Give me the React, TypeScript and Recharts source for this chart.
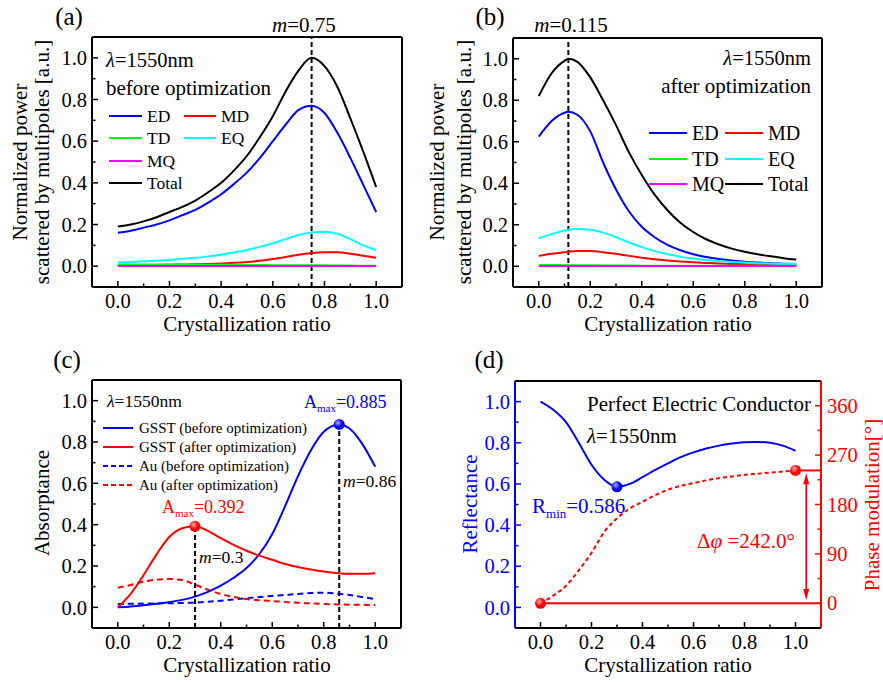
import React from 'react';
import { LineChart, Line, XAxis, YAxis, ReferenceLine, ReferenceDot } from 'recharts';

// ---------- data ----------
const xA = [0, 0.05, 0.1, 0.15, 0.2, 0.25, 0.3, 0.35, 0.4, 0.45, 0.5, 0.55, 0.6, 0.65, 0.7, 0.75, 0.8, 0.85, 0.9, 0.95, 1.0];
const aTotal = [0.19, 0.2, 0.215, 0.235, 0.26, 0.285, 0.315, 0.355, 0.4, 0.46, 0.53, 0.62, 0.72, 0.84, 0.94, 1.0, 0.96, 0.86, 0.71, 0.55, 0.38];
const aED = [0.16, 0.17, 0.185, 0.2, 0.22, 0.245, 0.27, 0.305, 0.345, 0.395, 0.45, 0.52, 0.6, 0.68, 0.75, 0.77, 0.735, 0.64, 0.52, 0.39, 0.26];
const aMD = [0.003, 0.004, 0.005, 0.006, 0.007, 0.008, 0.009, 0.011, 0.013, 0.016, 0.02, 0.026, 0.034, 0.044, 0.055, 0.063, 0.067, 0.067, 0.06, 0.05, 0.04];
const aTD = [0.008, 0.008, 0.008, 0.008, 0.008, 0.007, 0.007, 0.007, 0.007, 0.006, 0.006, 0.006, 0.005, 0.005, 0.005, 0.004, 0.004, 0.003, 0.003, 0.002, 0.002];
const aEQ = [0.018, 0.02, 0.023, 0.026, 0.03, 0.035, 0.04, 0.047, 0.055, 0.066, 0.078, 0.093, 0.11, 0.13, 0.15, 0.162, 0.165, 0.155, 0.13, 0.1, 0.077];
const aMQ = [0.001, 0.001, 0.001, 0.001, 0.001, 0.001, 0.001, 0.001, 0.001, 0.001, 0.001, 0.001, 0.001, 0.001, 0.001, 0.001, 0.001, 0.001, 0.001, 0.001, 0.001];

const xB = [0, 0.05, 0.1, 0.115, 0.15, 0.2, 0.25, 0.3, 0.35, 0.4, 0.45, 0.5, 0.55, 0.6, 0.65, 0.7, 0.75, 0.8, 0.85, 0.9, 0.95, 1.0];
const bTotal = [0.82, 0.93, 0.99, 1.0, 0.985, 0.91, 0.8, 0.68, 0.55, 0.44, 0.345, 0.27, 0.21, 0.165, 0.13, 0.105, 0.085, 0.07, 0.058, 0.048, 0.039, 0.032];
const bED = [0.625, 0.7, 0.74, 0.745, 0.73, 0.65, 0.5, 0.37, 0.265, 0.19, 0.14, 0.103, 0.077, 0.058, 0.045, 0.035, 0.028, 0.022, 0.018, 0.015, 0.012, 0.01];
const bMD = [0.05, 0.06, 0.068, 0.07, 0.073, 0.073, 0.068, 0.06, 0.05, 0.041, 0.034, 0.028, 0.023, 0.019, 0.016, 0.013, 0.011, 0.01, 0.008, 0.007, 0.006, 0.005];
const bTD = [0.006, 0.006, 0.005, 0.005, 0.005, 0.005, 0.004, 0.004, 0.004, 0.003, 0.003, 0.003, 0.003, 0.002, 0.002, 0.002, 0.002, 0.002, 0.002, 0.002, 0.002, 0.002];
const bEQ = [0.135, 0.155, 0.172, 0.176, 0.18, 0.176, 0.162, 0.14, 0.115, 0.092, 0.073, 0.058, 0.046, 0.037, 0.03, 0.025, 0.021, 0.018, 0.015, 0.013, 0.012, 0.011];
const bMQ = [0.001, 0.001, 0.001, 0.001, 0.001, 0.001, 0.001, 0.001, 0.001, 0.001, 0.001, 0.001, 0.001, 0.001, 0.001, 0.001, 0.001, 0.001, 0.001, 0.001, 0.001, 0.001];

const xC = [0, 0.05, 0.1, 0.15, 0.2, 0.25, 0.3, 0.35, 0.4, 0.45, 0.5, 0.55, 0.6, 0.65, 0.7, 0.75, 0.8, 0.86, 0.9, 0.95, 1.0];
const cGsstBefore = [0, 0.004, 0.01, 0.017, 0.025, 0.036, 0.052, 0.075, 0.105, 0.143, 0.19, 0.258, 0.355, 0.49, 0.635, 0.76, 0.85, 0.885, 0.865, 0.79, 0.68];
const cGsstAfter = [0, 0.065, 0.155, 0.255, 0.34, 0.383, 0.392, 0.37, 0.335, 0.302, 0.274, 0.25, 0.23, 0.21, 0.195, 0.183, 0.173, 0.165, 0.162, 0.162, 0.165];
const cAuBefore = [0.016, 0.017, 0.018, 0.019, 0.02, 0.021, 0.023, 0.027, 0.032, 0.038, 0.044, 0.05, 0.055, 0.06, 0.065, 0.069, 0.071, 0.066, 0.06, 0.05, 0.039];
const cAuAfter = [0.095, 0.108, 0.124, 0.134, 0.137, 0.132, 0.11, 0.085, 0.065, 0.05, 0.04, 0.034, 0.03, 0.026, 0.022, 0.019, 0.016, 0.014, 0.013, 0.012, 0.011];

const xD = [0, 0.05, 0.1, 0.15, 0.2, 0.25, 0.3, 0.35, 0.4, 0.45, 0.5, 0.55, 0.6, 0.65, 0.7, 0.75, 0.8, 0.85, 0.9, 0.95, 1.0];
const dRefl = [1.0, 0.96, 0.9, 0.8, 0.693, 0.62, 0.586, 0.6, 0.633, 0.668, 0.7, 0.73, 0.753, 0.772, 0.786, 0.796, 0.803, 0.804, 0.8, 0.786, 0.761];
const dPhase = [0, 14, 32, 60, 92, 130, 155, 173, 185, 197, 207, 214, 219, 224, 228, 231, 234, 236, 238, 240, 242];

const xTicks = [0, 0.1, 0.2, 0.3, 0.4, 0.5, 0.6, 0.7, 0.8, 0.9, 1.0];
const yTicks = [0, 0.1, 0.2, 0.3, 0.4, 0.5, 0.6, 0.7, 0.8, 0.9, 1.0];
const phaseTicks = [0, 45, 90, 135, 180, 225, 270, 315, 360];

const peakA = 0.75;
const peakB = 0.115;
const cPeakBefore = { x: 0.86, y: 0.885 };
const cPeakAfter = { x: 0.3, y: 0.392 };
const dMin = { x: 0.3, y: 0.586 };
const dPhaseStart = { x: 0, y: 0 };
const dPhaseEnd = { x: 1.0, y: 242 };
const dArrow = { x: 1.042, y1: 6, y2: 237 };

// ---------- styles ----------
const FONT = '"Liberation Serif", "Times New Roman", serif';
const BLUE = '#0000ff';
const RED = '#ff0000';
const GREEN = '#00ff00';
const CYAN = '#00ffff';
const MAGENTA = '#ff00ff';
const BLACK = '#000000';
const DOM: [number, number] = [-0.1, 1.1];

const isMajor1 = (v: number) => Math.round(v * 10) % 2 === 0;
const isMajorPhase = (v: number) => Math.round(v) % 90 === 0;

function makeTick(side: 'left' | 'right' | 'bottom', color: string, isMajor: (v: number) => boolean, fmt: (v: number) => string) {
  return (props: any) => {
    const { x, y, payload } = props;
    const v = payload.value;
    const major = isMajor(v);
    const len = major ? 6 : 3.5;
    if (side === 'bottom') {
      return (
        <g>
          <line x1={x} x2={x} y1={y} y2={y - len} stroke={color} strokeWidth={1.5} />
          {major && (
            <text x={x} y={y + 21} textAnchor="middle" fontSize={20.5} fill={color} fontFamily={FONT}>
              {fmt(v)}
            </text>
          )}
        </g>
      );
    }
    if (side === 'left') {
      return (
        <g>
          <line x1={x} x2={x + len} y1={y} y2={y} stroke={color} strokeWidth={1.5} />
          {major && (
            <text x={x - 5} y={y} dy="0.35em" textAnchor="end" fontSize={20.5} fill={color} fontFamily={FONT}>
              {fmt(v)}
            </text>
          )}
        </g>
      );
    }
    return (
      <g>
        <line x1={x} x2={x - len} y1={y} y2={y} stroke={color} strokeWidth={1.5} />
        {major && (
          <text x={x + 6} y={y} dy="0.35em" textAnchor="start" fontSize={20.5} fill={color} fontFamily={FONT}>
            {fmt(v)}
          </text>
        )}
      </g>
    );
  };
}

const fmt1 = (v: number) => v.toFixed(1);
const fmtInt = (v: number) => String(Math.round(v));
const bottomTick = makeTick('bottom', BLACK, isMajor1, fmt1);
const leftTick = makeTick('left', BLACK, isMajor1, fmt1);
const leftTickBlue = makeTick('left', BLUE, isMajor1, fmt1);
const rightTickRed = makeTick('right', RED, isMajorPhase, fmtInt);

const ball = (color: string, light: string, id: string) => (props: any) => {
  const { cx, cy } = props;
  return (
    <g>
      <defs>
        <radialGradient id={id} cx="38%" cy="35%" r="70%">
          <stop offset="0%" stopColor={light} />
          <stop offset="55%" stopColor={color} />
          <stop offset="100%" stopColor={color} />
        </radialGradient>
      </defs>
      <circle cx={cx} cy={cy} r={5.5} fill={`url(#${id})`} />
    </g>
  );
};

const DoubleArrow = (props: any) => {
  const { x1, y1, x2, y2 } = props;
  const top = Math.min(y1, y2);
  const bot = Math.max(y1, y2);
  return (
    <g>
      <line x1={x1} x2={x2} y1={top + 6} y2={bot - 6} stroke={RED} strokeWidth={1.6} />
      <path d={`M${x1 - 3},${top + 11} L${x1},${top} L${x1 + 3},${top + 11} Z`} fill={RED} />
      <path d={`M${x1 - 3},${bot - 11} L${x1},${bot} L${x1 + 3},${bot - 11} Z`} fill={RED} />
    </g>
  );
};

const frameAxes = (color = BLACK) => [
  <XAxis key="ft" xAxisId="top" orientation="top" type="number" domain={DOM} height={1} tick={false} tickLine={false} stroke={BLACK} axisLine={{ stroke: BLACK, strokeWidth: 2 }} allowDataOverflow />,
  <YAxis key="fr" yAxisId="right" orientation="right" type="number" domain={DOM} width={1} tick={false} tickLine={false} stroke={color} axisLine={{ stroke: color, strokeWidth: 2 }} allowDataOverflow />,
];

const mainAxes = () => [
  <XAxis key="x" dataKey="x" type="number" domain={DOM} ticks={xTicks} interval={0} height={1} tickSize={0} tickMargin={0} tickLine={false} tick={bottomTick} stroke={BLACK} axisLine={{ stroke: BLACK, strokeWidth: 2 }} allowDataOverflow />,
  <YAxis key="y" type="number" domain={DOM} ticks={yTicks} interval={0} width={1} tickSize={0} tickMargin={0} tickLine={false} tick={leftTick} stroke={BLACK} axisLine={{ stroke: BLACK, strokeWidth: 2 }} allowDataOverflow />,
];

const dataA = xA.map((x, i) => ({ x, total: aTotal[i], ed: aED[i], md: aMD[i], td: aTD[i], eq: aEQ[i], mq: aMQ[i] }));
const dataB = xB.map((x, i) => ({ x, total: bTotal[i], ed: bED[i], md: bMD[i], td: bTD[i], eq: bEQ[i], mq: bMQ[i] }));
const dataC = xC.map((x, i) => ({ x, gb: cGsstBefore[i], ga: cGsstAfter[i], ab: cAuBefore[i], aa: cAuAfter[i] }));
const dataD = xD.map((x, i) => ({ x, refl: dRefl[i], phase: dPhase[i] }));

const multipoleLines = [
  { key: 'total', color: BLACK },
  { key: 'ed', color: BLUE },
  { key: 'md', color: RED },
  { key: 'td', color: GREEN },
  { key: 'eq', color: CYAN },
  { key: 'mq', color: MAGENTA },
];

const T = (p: any) => <text fontFamily={FONT} fill={BLACK} {...p} />;
const LegLine = ({ x1, x2, y, color, dash }: any) => (
  <line x1={x1} x2={x2} y1={y} y2={y} stroke={color} strokeWidth={2} strokeDasharray={dash} />
);

export default function App() {
  return (
    <div style={{ position: 'absolute', left: 0, top: 0, width: 883, height: 682, background: '#fff', fontFamily: FONT }}>
      {/* (a) */}
      <div style={{ position: 'absolute', left: 0, top: 0 }}>
        <LineChart width={441} height={341} data={dataA} margin={{ top: 36, right: 38, bottom: 53, left: 91 }}>
          {mainAxes()}
          {frameAxes()}
          <ReferenceLine x={peakA} stroke={BLACK} strokeWidth={2} strokeDasharray="5 3" />
          {multipoleLines.map((l) => (
            <Line key={l.key} dataKey={l.key} type="monotone" stroke={l.color} strokeWidth={2} dot={false} isAnimationActive={false} />
          ))}
        </LineChart>
      </div>
      {/* (b) */}
      <div style={{ position: 'absolute', left: 440, top: 0 }}>
        <LineChart width={443} height={341} data={dataB} margin={{ top: 37, right: 60, bottom: 53, left: 72 }}>
          {mainAxes()}
          {frameAxes()}
          <ReferenceLine x={peakB} stroke={BLACK} strokeWidth={2} strokeDasharray="5 3" />
          {multipoleLines.map((l) => (
            <Line key={l.key} dataKey={l.key} type="monotone" stroke={l.color} strokeWidth={2} dot={false} isAnimationActive={false} />
          ))}
        </LineChart>
      </div>
      {/* (c) */}
      <div style={{ position: 'absolute', left: 0, top: 340 }}>
        <LineChart width={441} height={342} data={dataC} margin={{ top: 39, right: 39, bottom: 53, left: 91 }}>
          {mainAxes()}
          {frameAxes()}
          <ReferenceLine segment={[{ x: cPeakAfter.x, y: DOM[0] }, { x: cPeakAfter.x, y: cPeakAfter.y }]} stroke={BLACK} strokeWidth={2} strokeDasharray="5 3" />
          <ReferenceLine segment={[{ x: cPeakBefore.x, y: DOM[0] }, { x: cPeakBefore.x, y: cPeakBefore.y }]} stroke={BLACK} strokeWidth={2} strokeDasharray="5 3" />
          <Line dataKey="ab" type="monotone" stroke={BLUE} strokeWidth={2} strokeDasharray="6 4" dot={false} isAnimationActive={false} />
          <Line dataKey="aa" type="monotone" stroke={RED} strokeWidth={2} strokeDasharray="6 4" dot={false} isAnimationActive={false} />
          <Line dataKey="gb" type="monotone" stroke={BLUE} strokeWidth={2} dot={false} isAnimationActive={false} />
          <Line dataKey="ga" type="monotone" stroke={RED} strokeWidth={2} dot={false} isAnimationActive={false} />
          <ReferenceDot x={cPeakBefore.x} y={cPeakBefore.y} shape={ball(BLUE, '#b0b0ff', 'gbC')} />
          <ReferenceDot x={cPeakAfter.x} y={cPeakAfter.y} shape={ball(RED, '#ffb0b0', 'grC')} />
        </LineChart>
      </div>
      {/* (d) */}
      <div style={{ position: 'absolute', left: 440, top: 340 }}>
        <LineChart width={443} height={342} data={dataD} margin={{ top: 40, right: 61, bottom: 53, left: 74 }}>
          <XAxis dataKey="x" type="number" domain={DOM} ticks={xTicks} interval={0} height={1} tickSize={0} tickMargin={0} tickLine={false} tick={bottomTick} stroke={BLACK} axisLine={{ stroke: BLACK, strokeWidth: 2 }} allowDataOverflow />
          <XAxis xAxisId="top" orientation="top" type="number" domain={DOM} height={1} tick={false} tickLine={false} stroke={BLACK} axisLine={{ stroke: BLACK, strokeWidth: 2 }} allowDataOverflow />
          <YAxis yAxisId="refl" type="number" domain={DOM} ticks={yTicks} interval={0} width={1} tickSize={0} tickMargin={0} tickLine={false} tick={leftTickBlue} stroke={BLUE} axisLine={{ stroke: BLUE, strokeWidth: 2 }} allowDataOverflow />
          <YAxis yAxisId="phase" orientation="right" type="number" domain={[-45, 405]} ticks={phaseTicks} interval={0} width={1} tickSize={0} tickMargin={0} tickLine={false} tick={rightTickRed} stroke={RED} axisLine={{ stroke: RED, strokeWidth: 2 }} allowDataOverflow />
          <ReferenceLine yAxisId="phase" segment={[{ x: dPhaseStart.x, y: dPhaseStart.y }, { x: DOM[1], y: dPhaseStart.y }]} stroke={RED} strokeWidth={2} />
          <ReferenceLine yAxisId="phase" segment={[{ x: dPhaseEnd.x, y: dPhaseEnd.y }, { x: DOM[1], y: dPhaseEnd.y }]} stroke={RED} strokeWidth={2} />
          <ReferenceLine yAxisId="phase" segment={[{ x: dArrow.x, y: dArrow.y1 }, { x: dArrow.x, y: dArrow.y2 }]} shape={DoubleArrow} />
          <Line yAxisId="phase" dataKey="phase" type="monotone" stroke={RED} strokeWidth={2} strokeDasharray="4 3" dot={false} isAnimationActive={false} />
          <Line yAxisId="refl" dataKey="refl" type="monotone" stroke={BLUE} strokeWidth={2} dot={false} isAnimationActive={false} />
          <ReferenceDot yAxisId="refl" x={dMin.x} y={dMin.y} shape={ball(BLUE, '#b0b0ff', 'gbD')} />
          <ReferenceDot yAxisId="phase" x={dPhaseStart.x} y={dPhaseStart.y} shape={ball(RED, '#ffb0b0', 'grD1')} />
          <ReferenceDot yAxisId="phase" x={dPhaseEnd.x} y={dPhaseEnd.y} shape={ball(RED, '#ffb0b0', 'grD2')} />
        </LineChart>
      </div>

      {/* text overlay */}
      <svg width={883} height={682} style={{ position: 'absolute', left: 0, top: 0, pointerEvents: 'none' }}>
        {/* panel labels */}
        <T x={69} y={25} fontSize={25} textAnchor="middle">(a)</T>
        <T x={490} y={25} fontSize={25} textAnchor="middle">(b)</T>
        <T x={67} y={368} fontSize={25} textAnchor="middle">(c)</T>
        <T x={489} y={368} fontSize={25} textAnchor="middle">(d)</T>

        {/* (a) */}
        <T x={304} y={32} fontSize={21} textAnchor="middle"><tspan fontStyle="italic">m</tspan>=0.75</T>
        <T transform="translate(27,162) rotate(-90)" fontSize={21} textAnchor="middle">Normalized power</T>
        <T transform="translate(48.5,162) rotate(-90)" fontSize={21} textAnchor="middle">scattered by multipoles [a.u.]</T>
        <T x={247} y={331} fontSize={21} textAnchor="middle">Crystallization ratio</T>
        <T x={106} y={67} fontSize={20.5}><tspan fontStyle="italic">λ</tspan>=1550nm</T>
        <T x={106} y={95} fontSize={21}>before optimization</T>
        <LegLine x1={109} x2={142} y={116} color={BLUE} />
        <T x={147} y={122} fontSize={17.5}>ED</T>
        <LegLine x1={184} x2={216} y={116} color={RED} />
        <T x={221} y={122} fontSize={17.5}>MD</T>
        <LegLine x1={109} x2={142} y={138} color={GREEN} />
        <T x={147} y={144} fontSize={17.5}>TD</T>
        <LegLine x1={184} x2={216} y={138} color={CYAN} />
        <T x={221} y={144} fontSize={17.5}>EQ</T>
        <LegLine x1={109} x2={142} y={161} color={MAGENTA} />
        <T x={147} y={167} fontSize={17.5}>MQ</T>
        <LegLine x1={109} x2={142} y={183} color={BLACK} />
        <T x={147} y={189} fontSize={17.5}>Total</T>

        {/* (b) */}
        <T x={571} y={32} fontSize={21} textAnchor="middle"><tspan fontStyle="italic">m</tspan>=0.115</T>
        <T transform="translate(444,162) rotate(-90)" fontSize={21} textAnchor="middle">Normalized power</T>
        <T transform="translate(470.5,162) rotate(-90)" fontSize={21} textAnchor="middle">scattered by multipoles [a.u.]</T>
        <T x={668} y={331} fontSize={21} textAnchor="middle">Crystallization ratio</T>
        <T x={811} y={65} fontSize={20.5} textAnchor="end"><tspan fontStyle="italic">λ</tspan>=1550nm</T>
        <T x={811} y={93} fontSize={21} textAnchor="end">after optimization</T>
        <LegLine x1={649} x2={687} y={133} color={BLUE} />
        <T x={692} y={140} fontSize={20}>ED</T>
        <LegLine x1={725} x2={763} y={133} color={RED} />
        <T x={768} y={140} fontSize={20}>MD</T>
        <LegLine x1={649} x2={687} y={159} color={GREEN} />
        <T x={692} y={166} fontSize={20}>TD</T>
        <LegLine x1={725} x2={763} y={159} color={CYAN} />
        <T x={768} y={166} fontSize={20}>EQ</T>
        <LegLine x1={649} x2={687} y={184} color={MAGENTA} />
        <T x={692} y={191} fontSize={20}>MQ</T>
        <LegLine x1={725} x2={763} y={184} color={BLACK} />
        <T x={768} y={191} fontSize={20}>Total</T>

        {/* (c) */}
        <T transform="translate(49,503) rotate(-90)" fontSize={21} textAnchor="middle">Absorptance</T>
        <T x={247} y={672} fontSize={21} textAnchor="middle">Crystallization ratio</T>
        <T x={107} y={407} fontSize={17.5}><tspan fontStyle="italic">λ</tspan>=1550nm</T>
        <LegLine x1={103} x2={133} y={428} color={BLUE} />
        <T x={139} y={433} fontSize={15}>GSST (before optimization)</T>
        <LegLine x1={103} x2={133} y={447} color={RED} />
        <T x={139} y={452} fontSize={15}>GSST (after optimization)</T>
        <LegLine x1={103} x2={133} y={466} color={BLUE} dash="5 3" />
        <T x={139} y={471} fontSize={15}>Au (before optimization)</T>
        <LegLine x1={103} x2={133} y={485} color={RED} dash="5 3" />
        <T x={139} y={490} fontSize={15}>Au (after optimization)</T>
        <T x={304} y={408} fontSize={18} fill={BLUE}>A<tspan fontSize={11} dy={4}>max</tspan><tspan dy={-4}>=0.885</tspan></T>
        <T x={162} y={513} fontSize={18} fill={RED}>A<tspan fontSize={11} dy={4}>max</tspan><tspan dy={-4}>=0.392</tspan></T>
        <T x={199} y={563} fontSize={17.5}><tspan fontStyle="italic">m</tspan>=0.3</T>
        <T x={343} y={487} fontSize={17.5}><tspan fontStyle="italic">m</tspan>=0.86</T>

        {/* (d) */}
        <T transform="translate(477,504) rotate(-90)" fontSize={21} textAnchor="middle" fill={BLUE}>Reflectance</T>
        <T transform="translate(879,505) rotate(-90)" fontSize={21} textAnchor="middle" fill={RED}>Phase modulation[°]</T>
        <T x={668} y={672} fontSize={21} textAnchor="middle">Crystallization ratio</T>
        <T x={587} y={411} fontSize={21}>Perfect Electric Conductor</T>
        <T x={587} y={443} fontSize={21}><tspan fontStyle="italic">λ</tspan>=1550nm</T>
        <T x={532} y={513} fontSize={21} fill={BLUE}>R<tspan fontSize={13} dy={5}>min</tspan><tspan dy={-5}>=0.586</tspan></T>
        <T x={697} y={548} fontSize={21} fill={RED}>Δ<tspan fontStyle="italic">φ</tspan> =242.0°</T>
      </svg>
    </div>
  );
}
